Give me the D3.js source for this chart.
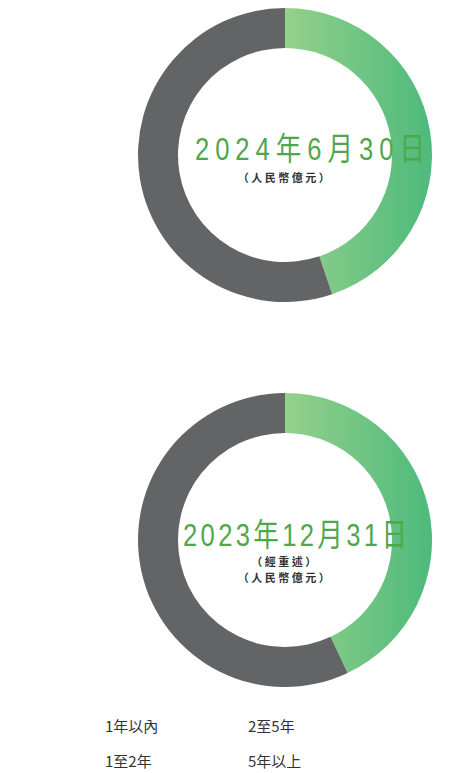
<!DOCTYPE html>
<html>
<head>
<meta charset="utf-8">
<script src="https://cdn.jsdelivr.net/npm/d3@7"></script>
<style>
  body { margin: 0; background: #fff; }
  svg { display: block; }
  text { font-family: "Noto Sans CJK TC", "Liberation Sans", Arial, sans-serif; }
  text.title { font-family: "Liberation Sans", "Noto Sans CJK TC", sans-serif; }
</style>
</head>
<body>
<svg id="chart" width="467" height="773"></svg>
<script>
// data (share of each ring, %)
var categories = ["1年以內", "1至2年", "2至5年", "5年以上"];
var periods = ["2024年6月30日", "2023年12月31日"];
var notes = [["（人民幣億元）"], ["（經重述）", "（人民幣億元）"]];
var shortTerm = [44.8, 43.0];   // green part
var longTerm = [55.2, 57.0];    // grey part

var svg = d3.select("#chart");

var defs = svg.append("defs");
var grad = defs.append("linearGradient")
    .attr("id", "greenGrad")
    .attr("gradientUnits", "objectBoundingBox")
    .attr("x1", 0).attr("y1", 0).attr("x2", 1).attr("y2", 0);
grad.append("stop").attr("offset", "0%").attr("stop-color", "#95d08c");
grad.append("stop").attr("offset", "100%").attr("stop-color", "#4dba7b");

var outerR = 147, innerR = 107;
var centers = [{x: 285, y: 155}, {x: 285, y: 540}];
var titleX = [195, 183];
var titleY = [160, 546];
var titleW = [230, 224];
var squeeze = 0.8;   // the date glyphs are drawn narrow in the source

var pie = d3.pie().sort(null).value(function (d) { return d; });
var arc = d3.arc().innerRadius(innerR).outerRadius(outerR);

periods.forEach(function (p, i) {
    var g = svg.append("g")
        .attr("transform", `translate(${centers[i].x},${centers[i].y})`);

    var slices = pie([shortTerm[i], longTerm[i]]);
    g.selectAll("path").data(slices).enter().append("path")
        .attr("d", arc)
        .attr("fill", function (d, j) { return j ? "#636466" : "url(#greenGrad)"; });

    svg.append("text")
        .attr("class", "title")
        .attr("transform", `translate(${titleX[i]},${titleY[i]}) scale(${squeeze},1)`)
        .attr("fill", "#4ea84b")
        .attr("font-size", 32)
        .attr("textLength", titleW[i] / squeeze)
        .attr("lengthAdjust", "spacing")
        .text(p);

    notes[i].forEach(function (n, k) {
        svg.append("text")
            .attr("x", centers[i].x)
            .attr("y", (i ? 566 : 182) + k * 16)
            .attr("text-anchor", "middle")
            .attr("fill", "#333")
            .attr("font-size", 11)
            .attr("font-weight", "bold")
            .attr("letter-spacing", 2.5)
            .text(n);
    });
});

// legend, two columns
var legX = d3.scalePoint().domain([0, 1]).range([105, 248]);
var legY = d3.scalePoint().domain([0, 1]).range([732, 767]);
svg.selectAll(".leg").data(categories).enter().append("text")
    .attr("class", "leg")
    .attr("x", function (d, i) { return legX(Math.floor(i / 2)); })
    .attr("y", function (d, i) { return legY(i % 2); })
    .attr("fill", "#333")
    .attr("font-size", 15)
    .text(function (d) { return d; });
</script>
</body>
</html>
